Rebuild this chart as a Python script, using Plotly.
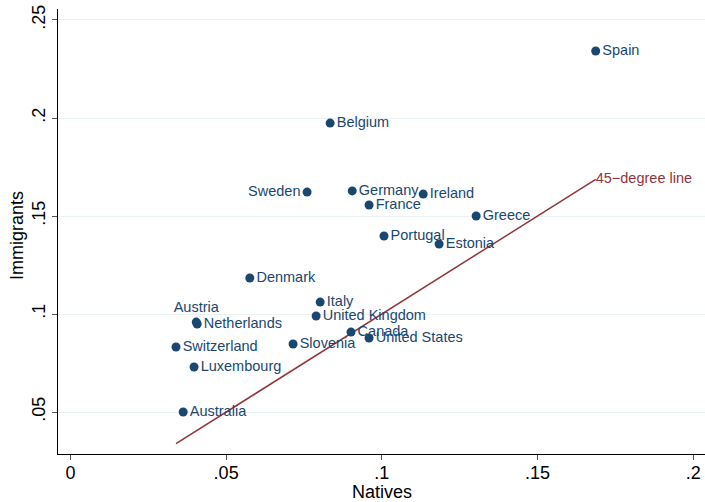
import plotly.graph_objects as go

countries = ["Spain", "Belgium", "Germany", "Ireland", "France", "Greece", "Portugal",
             "Estonia", "Denmark", "Italy", "United Kingdom", "Netherlands", "Canada",
             "United States", "Switzerland", "Slovenia", "Luxembourg", "Australia",
             "Sweden", "Austria"]
natives = [0.1687, 0.0834, 0.0905, 0.1133, 0.0959, 0.1303, 0.1007,
           0.1184, 0.0576, 0.0802, 0.0789, 0.0407, 0.0901,
           0.0959, 0.0339, 0.0715, 0.0397, 0.0362,
           0.0760, 0.0404]
immigrants = [0.2342, 0.1974, 0.1628, 0.1612, 0.1556, 0.1500, 0.1398,
              0.1357, 0.1184, 0.1061, 0.0990, 0.0949, 0.0908,
              0.0878, 0.0832, 0.0847, 0.0730, 0.0500,
              0.1622, 0.0959]
label_pos = ["middle right"] * 18 + ["middle left", "top center"]

x_ticks = [0, 0.05, 0.1, 0.15, 0.2]
x_ticklabels = ["0", ".05", ".1", ".15", ".2"]
y_ticks = [0.05, 0.1, 0.15, 0.2, 0.25]
y_ticklabels = [".05", ".1", ".15", ".2", ".25"]

NAVY = "#1a476f"
MAROON = "#90353b"
FONT = "Liberation Sans, Arial, sans-serif"

fig = go.Figure()

line_x = [min(natives), max(natives)]
fig.add_trace(go.Scatter(
    x=line_x, y=line_x, mode="lines+text",
    line=dict(color=MAROON, width=1.5),
    text=["", "45\u2212degree line"], textposition="middle right",
    textfont=dict(color=MAROON, size=14.5, family=FONT),
    hoverinfo="skip", showlegend=False, cliponaxis=False))

fig.add_trace(go.Scatter(
    x=natives, y=immigrants, mode="markers+text",
    marker=dict(color=NAVY, size=9),
    text=countries, textposition=label_pos,
    textfont=dict(color=NAVY, size=14.5, family=FONT),
    hoverinfo="skip", showlegend=False, cliponaxis=False))

fig.update_layout(
    width=705, height=502,
    margin=dict(l=58, r=0, t=9, b=48, autoexpand=False),
    paper_bgcolor="white", plot_bgcolor="white",
    font=dict(family=FONT, color="black", size=18),
    showlegend=False,
)
fig.update_xaxes(
    range=[-0.0040, 0.2038], tickvals=x_ticks, ticktext=x_ticklabels,
    showgrid=False, zeroline=False, showline=True, linecolor="black", linewidth=1,
    ticks="outside", ticklen=5, tickcolor="#555555",
    tickfont=dict(size=18, family=FONT), automargin=False,
    ticklabeloverflow="allow", ticklabelstandoff=-3,
)
fig.update_yaxes(
    range=[0.0286, 0.2556], tickvals=y_ticks, ticktext=y_ticklabels,
    showgrid=True, gridcolor="#eaf2f3", gridwidth=1.2, zeroline=False,
    showline=True, linecolor="black", linewidth=1,
    ticks="outside", ticklen=5, tickcolor="#555555", tickangle=-90,
    tickfont=dict(size=18, family=FONT), automargin=False,
    ticklabeloverflow="allow",
)

# axis titles
fig.add_annotation(text="Natives", xref="paper", yref="paper",
                   x=0.5, y=(454 - 492) / 445, xanchor="center", yanchor="middle",
                   showarrow=False, font=dict(size=18, family=FONT))
fig.add_annotation(text="Immigrants", xref="paper", yref="paper",
                   x=(17 - 58) / 647, y=(454 - 236) / 445, xanchor="center", yanchor="middle",
                   textangle=-90, showarrow=False, font=dict(size=18, family=FONT))

fig.write_html("out.html",
               config={"displayModeBar": False},
               post_script="document.body.style.margin='0';document.body.style.overflow='hidden';")
